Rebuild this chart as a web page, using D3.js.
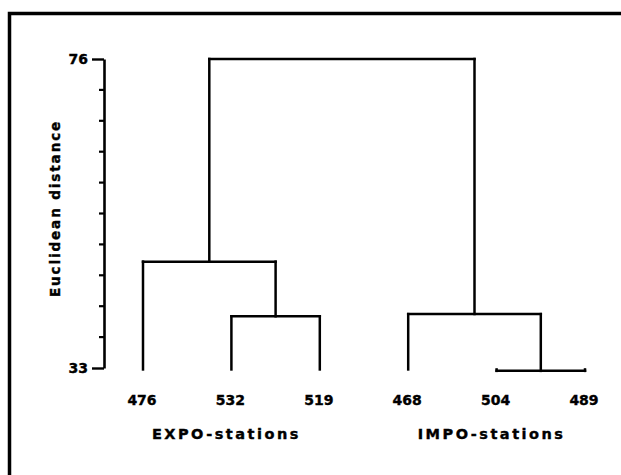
<!DOCTYPE html>
<html>
<head>
<meta charset="utf-8">
<script src="https://cdn.jsdelivr.net/npm/d3@7"></script>
<style>
  body { margin: 0; background: #fff; }
  svg { display: block; font-family: "DejaVu Sans", "Liberation Sans", Arial, sans-serif; font-weight: bold; }
  text { stroke: #000; stroke-width: 0.4px; fill: #000; }
</style>
</head>
<body>
<div class="chart"></div>
<script>
//// data - stations, groups and merge heights (Euclidean distance)

const stations = ['476', '532', '519', '468', '504', '489'];
const groups = ['EXPO-stations', 'IMPO-stations'];
const groupMembers = [['476', '532', '519'], ['468', '504', '489']];
// [name, parent, distance]
const merges = [
    ['root', null, 76],
    ['expo', 'root', 47.8],
    ['impo', 'root', 40.5],
    ['expoSub', 'expo', 40.2],
    ['impoSub', 'impo', 32.6]
];
const leafParents = ['expo', 'expoSub', 'expoSub', 'impo', 'impoSub', 'impoSub'];
const leafHeight = 32.8;
const axisLabels = [33, 76];
const minorCount = 10;


const w = 621, h = 475;
const svg = d3.select('.chart')
    .append('svg')
    .attr('width', w)
    .attr('height', h);

// the thick frame round the figure (cut off right and bottom in the scan)
svg.append('rect')
    .attr('x', 9.5)
    .attr('y', 13.5)
    .attr('width', 700)
    .attr('height', 600)
    .attr('fill', 'none')
    .attr('stroke', '#000')
    .attr('stroke-width', 3.5);

const yScale = d3.scaleLinear()
    .domain([33, 76])
    .range([368, 59]);

//// build the tree

const rows = merges.map(d => ({id: d[0], parent: d[1], dist: d[2]}))
    .concat(stations.map((s, i) => ({id: s, parent: leafParents[i], dist: leafHeight})));

const root = d3.stratify()
    .id(d => d.id)
    .parentId(d => d.parent)(rows);

// keep the leaves in the picture's order
const order = new Map(stations.map((s, i) => [s, i]));
root.sort((a, b) => d3.min(a.leaves(), l => order.get(l.id)) - d3.min(b.leaves(), l => order.get(l.id)));

d3.cluster()
    .nodeSize([1, 1])
    .separation(() => 1)(root);

// cluster pads the ends, so stretch the leaves out edge to edge
const xScale = d3.scaleLinear()
    .domain(d3.extent(root.leaves(), d => d.x))
    .range([143, 585]);

root.each(d => {
    d.px = xScale(d.x);
    d.py = yScale(d.data.dist);
});

//// dendrogram lines

const tree = svg.append('g')
    .attr('fill', 'none')
    .attr('stroke', '#000')
    .attr('stroke-width', 2.5)
    .attr('stroke-linecap', 'square');

root.descendants().filter(d => d.children).forEach(d => {
    const kids = d.children;
    tree.append('line')
        .attr('x1', d3.min(kids, k => k.px))
        .attr('x2', d3.max(kids, k => k.px))
        .attr('y1', d.py)
        .attr('y2', d.py);
    kids.forEach(k => {
        tree.append('line')
            .attr('x1', k.px)
            .attr('x2', k.px)
            .attr('y1', k.py)
            .attr('y2', d.py);
    });
});

//// y axis - long ticks at the ends, short ones between

const axisX = 104;
const step = (76 - 33) / minorCount;
const minorTicks = d3.range(1, minorCount).map(i => 33 + i * step);

const axisG = svg.append('g')
    .attr('transform', `translate(${axisX},0)`)
    .call(d3.axisLeft(yScale)
        .tickValues(axisLabels)
        .tickSize(12)
        .tickSizeOuter(0)
        .tickPadding(4));
axisG.select('.domain').attr('stroke-width', 2.6);
axisG.selectAll('.tick line').attr('stroke-width', 2.4);
axisG.selectAll('.tick text')
    .style('font-size', '14px')
    .style('font-weight', 'bold')
    .style('font-family', '"DejaVu Sans", Arial, sans-serif');

svg.append('g')
    .selectAll('line')
    .data(minorTicks)
    .join('line')
    .attr('x1', axisX - 5)
    .attr('x2', axisX)
    .attr('y1', d => yScale(d))
    .attr('y2', d => yScale(d))
    .attr('stroke', '#000')
    .attr('stroke-width', 2.2);

svg.append('text')
    .attr('transform', `translate(60,${(59 + 368) / 2 - 5}) rotate(-90)`)
    .attr('text-anchor', 'middle')
    .style('font-size', '13.5px')
    .attr('letter-spacing', 1.9)
    .text('Euclidean distance');

//// leaf and group labels

svg.append('g')
    .selectAll('text')
    .data(root.leaves())
    .join('text')
    .attr('x', d => d.px - 1)
    .attr('y', 405)
    .attr('text-anchor', 'middle')
    .style('font-size', '14px')
    .text(d => d.id);

svg.append('g')
    .selectAll('text')
    .data(groups)
    .join('text')
    .attr('x', (g, i) => {
        const xs = root.leaves().filter(l => groupMembers[i].includes(l.id)).map(l => l.px);
        return (d3.min(xs) + d3.max(xs)) / 2 - 5;
    })
    .attr('y', 439)
    .attr('text-anchor', 'middle')
    .style('font-size', '14.5px')
    .attr('letter-spacing', 2.5)
    .text(d => d);
</script>
</body>
</html>
